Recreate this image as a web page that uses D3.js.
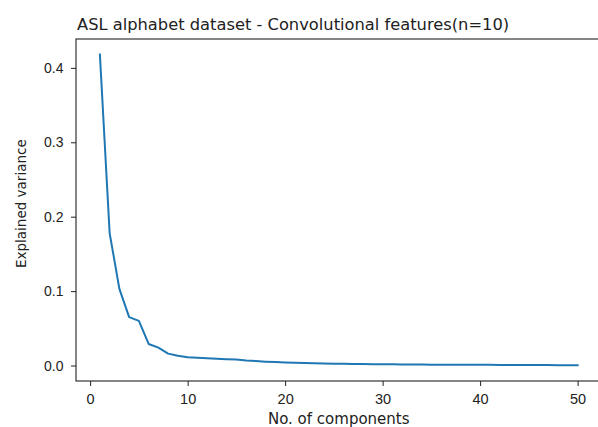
<!DOCTYPE html>
<html>
<head>
<meta charset="utf-8">
<script src="https://cdn.jsdelivr.net/npm/d3@7"></script>
<style>
  body { margin: 0; background: #fff; }
  svg { display: block; font-family: "DejaVu Sans", sans-serif; }
</style>
</head>
<body>
<svg id="chart" width="598" height="427"></svg>
<script>
// explained variance per principal component
const components = d3.range(1, 51);
const variance = [
  0.418, 0.178, 0.103, 0.065, 0.060, 0.029, 0.024, 0.016, 0.013, 0.011,
  0.0105, 0.0098, 0.0092, 0.0085, 0.0080, 0.0068, 0.0060, 0.0052, 0.0046, 0.0040,
  0.0036, 0.0033, 0.0030, 0.0027, 0.0025, 0.0023, 0.0021, 0.0020, 0.0018, 0.0017,
  0.0016, 0.0015, 0.0014, 0.0013, 0.0012, 0.0011, 0.0011, 0.0010, 0.0010, 0.0009,
  0.0009, 0.0008, 0.0008, 0.0007, 0.0007, 0.0006, 0.0006, 0.0005, 0.0005, 0.0004
];
const xTicks = [0, 10, 20, 30, 40, 50];
const yTicks = [0.0, 0.1, 0.2, 0.3, 0.4];

const data = components.map((c, i) => ({c: c, v: variance[i]}));

const plotLeft = 76, plotRight = 601.5, plotTop = 39, plotBottom = 381;

const svg = d3.select("#chart");

// matplotlib-style 5% margins
const x = d3.scaleLinear().domain([-1.45, 52.45]).range([plotLeft, plotRight]);
const y = d3.scaleLinear().domain([-0.0208, 0.4388]).range([plotBottom, plotTop]);

// x axis
const xAxis = svg.append("g")
    .attr("transform", `translate(0,${plotBottom})`)
    .call(d3.axisBottom(x).tickValues(xTicks).tickSize(5).tickPadding(8).tickFormat(d3.format("d")));
xAxis.select(".domain").remove();
xAxis.selectAll("text").attr("font-size", 14.5).attr("fill", "#222");
xAxis.selectAll("line").attr("stroke", "#222");

// y axis
const yAxis = svg.append("g")
    .attr("transform", `translate(${plotLeft},0)`)
    .call(d3.axisLeft(y).tickValues(yTicks).tickSize(5).tickPadding(7.5).tickFormat(d3.format(".1f")));
yAxis.select(".domain").remove();
yAxis.selectAll("text").attr("font-size", 14).attr("fill", "#222");
yAxis.selectAll("line").attr("stroke", "#222");

// spines
svg.append("rect")
    .attr("x", plotLeft)
    .attr("y", plotTop)
    .attr("width", plotRight - plotLeft)
    .attr("height", plotBottom - plotTop)
    .attr("fill", "none")
    .attr("stroke", "#222")
    .attr("stroke-width", 1.1);

// line
const line = d3.line()
    .x(d => x(d.c))
    .y(d => y(d.v));

svg.append("path")
    .datum(data)
    .attr("d", line)
    .attr("fill", "none")
    .attr("stroke", "#1f77b4")
    .attr("stroke-width", 2)
    .attr("stroke-linejoin", "round")
    .attr("stroke-linecap", "square");

// title
svg.append("text")
    .attr("x", 77)
    .attr("y", 29.5)
    .attr("font-size", 16.3)
    .attr("fill", "#222")
    .text("ASL alphabet dataset - Convolutional features(n=10)");

// axis labels
svg.append("text")
    .attr("x", (plotLeft + plotRight) / 2)
    .attr("y", 424)
    .attr("text-anchor", "middle")
    .attr("font-size", 15)
    .attr("fill", "#222")
    .text("No. of components");

svg.append("text")
    .attr("transform", "rotate(-90)")
    .attr("x", -268)
    .attr("y", 25.5)
    .attr("text-anchor", "start")
    .attr("font-size", 13.5)
    .attr("fill", "#222")
    .text("Explained variance");
</script>
</body>
</html>
